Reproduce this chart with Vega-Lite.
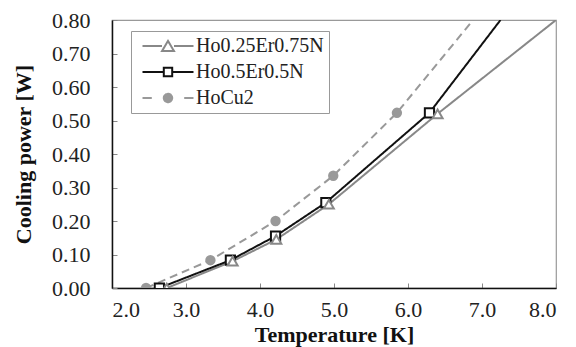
{
  "$schema": "https://vega.github.io/schema/vega-lite/v6.json",
  "width": 444,
  "height": 268,
  "autosize": {"type": "none"},
  "padding": {"left": 112, "top": 20, "right": 20, "bottom": 59},
  "config": {
    "font": "serif",
    "view": {"stroke": "#999999", "strokeWidth": 1.2},
    "axis": {
      "labelFont": "serif",
      "labelFontSize": 22,
      "labelColor": "#222222",
      "titleFont": "serif",
      "titleFontSize": 22,
      "titleFontWeight": "bold",
      "titleColor": "#111111",
      "domainColor": "#111111",
      "domainWidth": 1.5,
      "tickColor": "#888888",
      "tickSize": -5,
      "grid": false
    }
  },
  "data": {
    "values": [
      {"series": "Ho0.25Er0.75N", "T": 2.74, "P": 0.0, "m": true},
      {"series": "Ho0.25Er0.75N", "T": 3.63, "P": 0.08, "m": true},
      {"series": "Ho0.25Er0.75N", "T": 4.22, "P": 0.145, "m": true},
      {"series": "Ho0.25Er0.75N", "T": 4.93, "P": 0.25, "m": true},
      {"series": "Ho0.25Er0.75N", "T": 6.40, "P": 0.52, "m": true},
      {"series": "Ho0.25Er0.75N", "T": 8.0, "P": 0.80, "m": false},
      {"series": "Ho0.5Er0.5N", "T": 2.64, "P": 0.0, "m": true},
      {"series": "Ho0.5Er0.5N", "T": 3.60, "P": 0.083, "m": true},
      {"series": "Ho0.5Er0.5N", "T": 4.21, "P": 0.155, "m": true},
      {"series": "Ho0.5Er0.5N", "T": 4.89, "P": 0.255, "m": true},
      {"series": "Ho0.5Er0.5N", "T": 6.29, "P": 0.523, "m": true},
      {"series": "Ho0.5Er0.5N", "T": 7.25, "P": 0.80, "m": false},
      {"series": "HoCu2", "T": 2.46, "P": 0.0, "m": true},
      {"series": "HoCu2", "T": 3.33, "P": 0.083, "m": true},
      {"series": "HoCu2", "T": 4.21, "P": 0.20, "m": true},
      {"series": "HoCu2", "T": 4.99, "P": 0.335, "m": true},
      {"series": "HoCu2", "T": 5.85, "P": 0.523, "m": true},
      {"series": "HoCu2", "T": 6.88, "P": 0.80, "m": false}
    ]
  },
  "encoding": {
    "x": {
      "field": "T", "type": "quantitative",
      "scale": {"domain": [2, 8], "nice": false, "zero": false},
      "axis": {"values": [2, 3, 4, 5, 6, 7, 8], "format": ".1f", "title": "Temperature [K]", "labelPadding": 16, "titlePadding": 4}
    },
    "y": {
      "field": "P", "type": "quantitative",
      "scale": {"domain": [0, 0.8], "nice": false},
      "axis": {"values": [0, 0.1, 0.2, 0.3, 0.4, 0.5, 0.6, 0.7, 0.8], "format": ".2f", "title": "Cooling power [W]", "labelPadding": 27, "titlePadding": 16}
    }
  },
  "layer": [
    {
      "mark": {"type": "line", "strokeWidth": 2, "clip": true},
      "encoding": {
        "color": {
          "field": "series", "type": "nominal",
          "scale": {"domain": ["Ho0.25Er0.75N", "Ho0.5Er0.5N", "HoCu2"], "range": ["#888888", "#111111", "#999999"]},
          "legend": {
            "title": null,
            "orient": "none",
            "legendX": 19,
            "legendY": 11,
            "padding": 5,
            "strokeColor": "#999999",
            "fillColor": "white",
            "labelFont": "serif",
            "labelFontSize": 20,
            "labelLimit": 0,
            "labelColor": "#222222",
            "symbolSize": 144,
            "symbolStrokeWidth": 2,
            "symbolOffset": 22,
            "labelOffset": 18,
            "rowPadding": 6,
            "encode": {
              "symbols": {
                "update": {
                  "shape": [
                    {"test": "datum.value === 'HoCu2'", "value": "M-4.25,0H-2.7M2.7,0H4.25M-0.7,0A0.7,0.7 0 1,0 0.7,0A0.7,0.7 0 1,0 -0.7,0Z"},
                    {"test": "datum.value === 'Ho0.5Er0.5N'", "value": "M-4.25,0H-0.7M0.7,0H4.25M-0.7,-0.7H0.7V0.7H-0.7Z"},
                    {"value": "M-4.25,0H-1M1,0H4.25M0,-0.85L1,0.85L-1,0.85Z"}
                  ],
                  "fill": [
                    {"test": "datum.value === 'HoCu2'", "value": "#999999"},
                    {"value": "white"}
                  ],
                  "strokeDash": {"value": [1, 0]},
                  "strokeWidth": {"value": 2},
                  "opacity": {"value": 1}
                }
              }
            }
          }
        },
        "strokeDash": {
          "field": "series", "type": "nominal",
          "scale": {"domain": ["HoCu2", "Ho0.5Er0.5N", "Ho0.25Er0.75N"], "range": [[8, 5], [1, 0], [1, 0]]},
          "legend": null
        }
      }
    },
    {
      "transform": [{"filter": "datum.m"}],
      "mark": {"type": "point", "filled": false, "strokeWidth": 2, "opacity": 1, "clip": true},
      "encoding": {
        "stroke": {
          "field": "series", "type": "nominal",
          "scale": {"domain": ["HoCu2", "Ho0.5Er0.5N", "Ho0.25Er0.75N"], "range": ["#999999", "#111111", "#888888"]},
          "legend": null
        },
        "fill": {
          "field": "series", "type": "nominal",
          "scale": {"domain": ["HoCu2", "Ho0.5Er0.5N", "Ho0.25Er0.75N"], "range": ["#999999", "white", "white"]},
          "legend": null
        },
        "shape": {
          "field": "series", "type": "nominal",
          "scale": {"domain": ["HoCu2", "Ho0.5Er0.5N", "Ho0.25Er0.75N"], "range": ["circle", "square", "triangle-up"]},
          "legend": null
        },
        "size": {
          "field": "series", "type": "nominal",
          "scale": {"domain": ["HoCu2", "Ho0.5Er0.5N", "Ho0.25Er0.75N"], "range": [70, 100, 361]},
          "legend": null
        },
        "order": {"field": "series", "sort": "descending"}
      }
    }
  ]
}
